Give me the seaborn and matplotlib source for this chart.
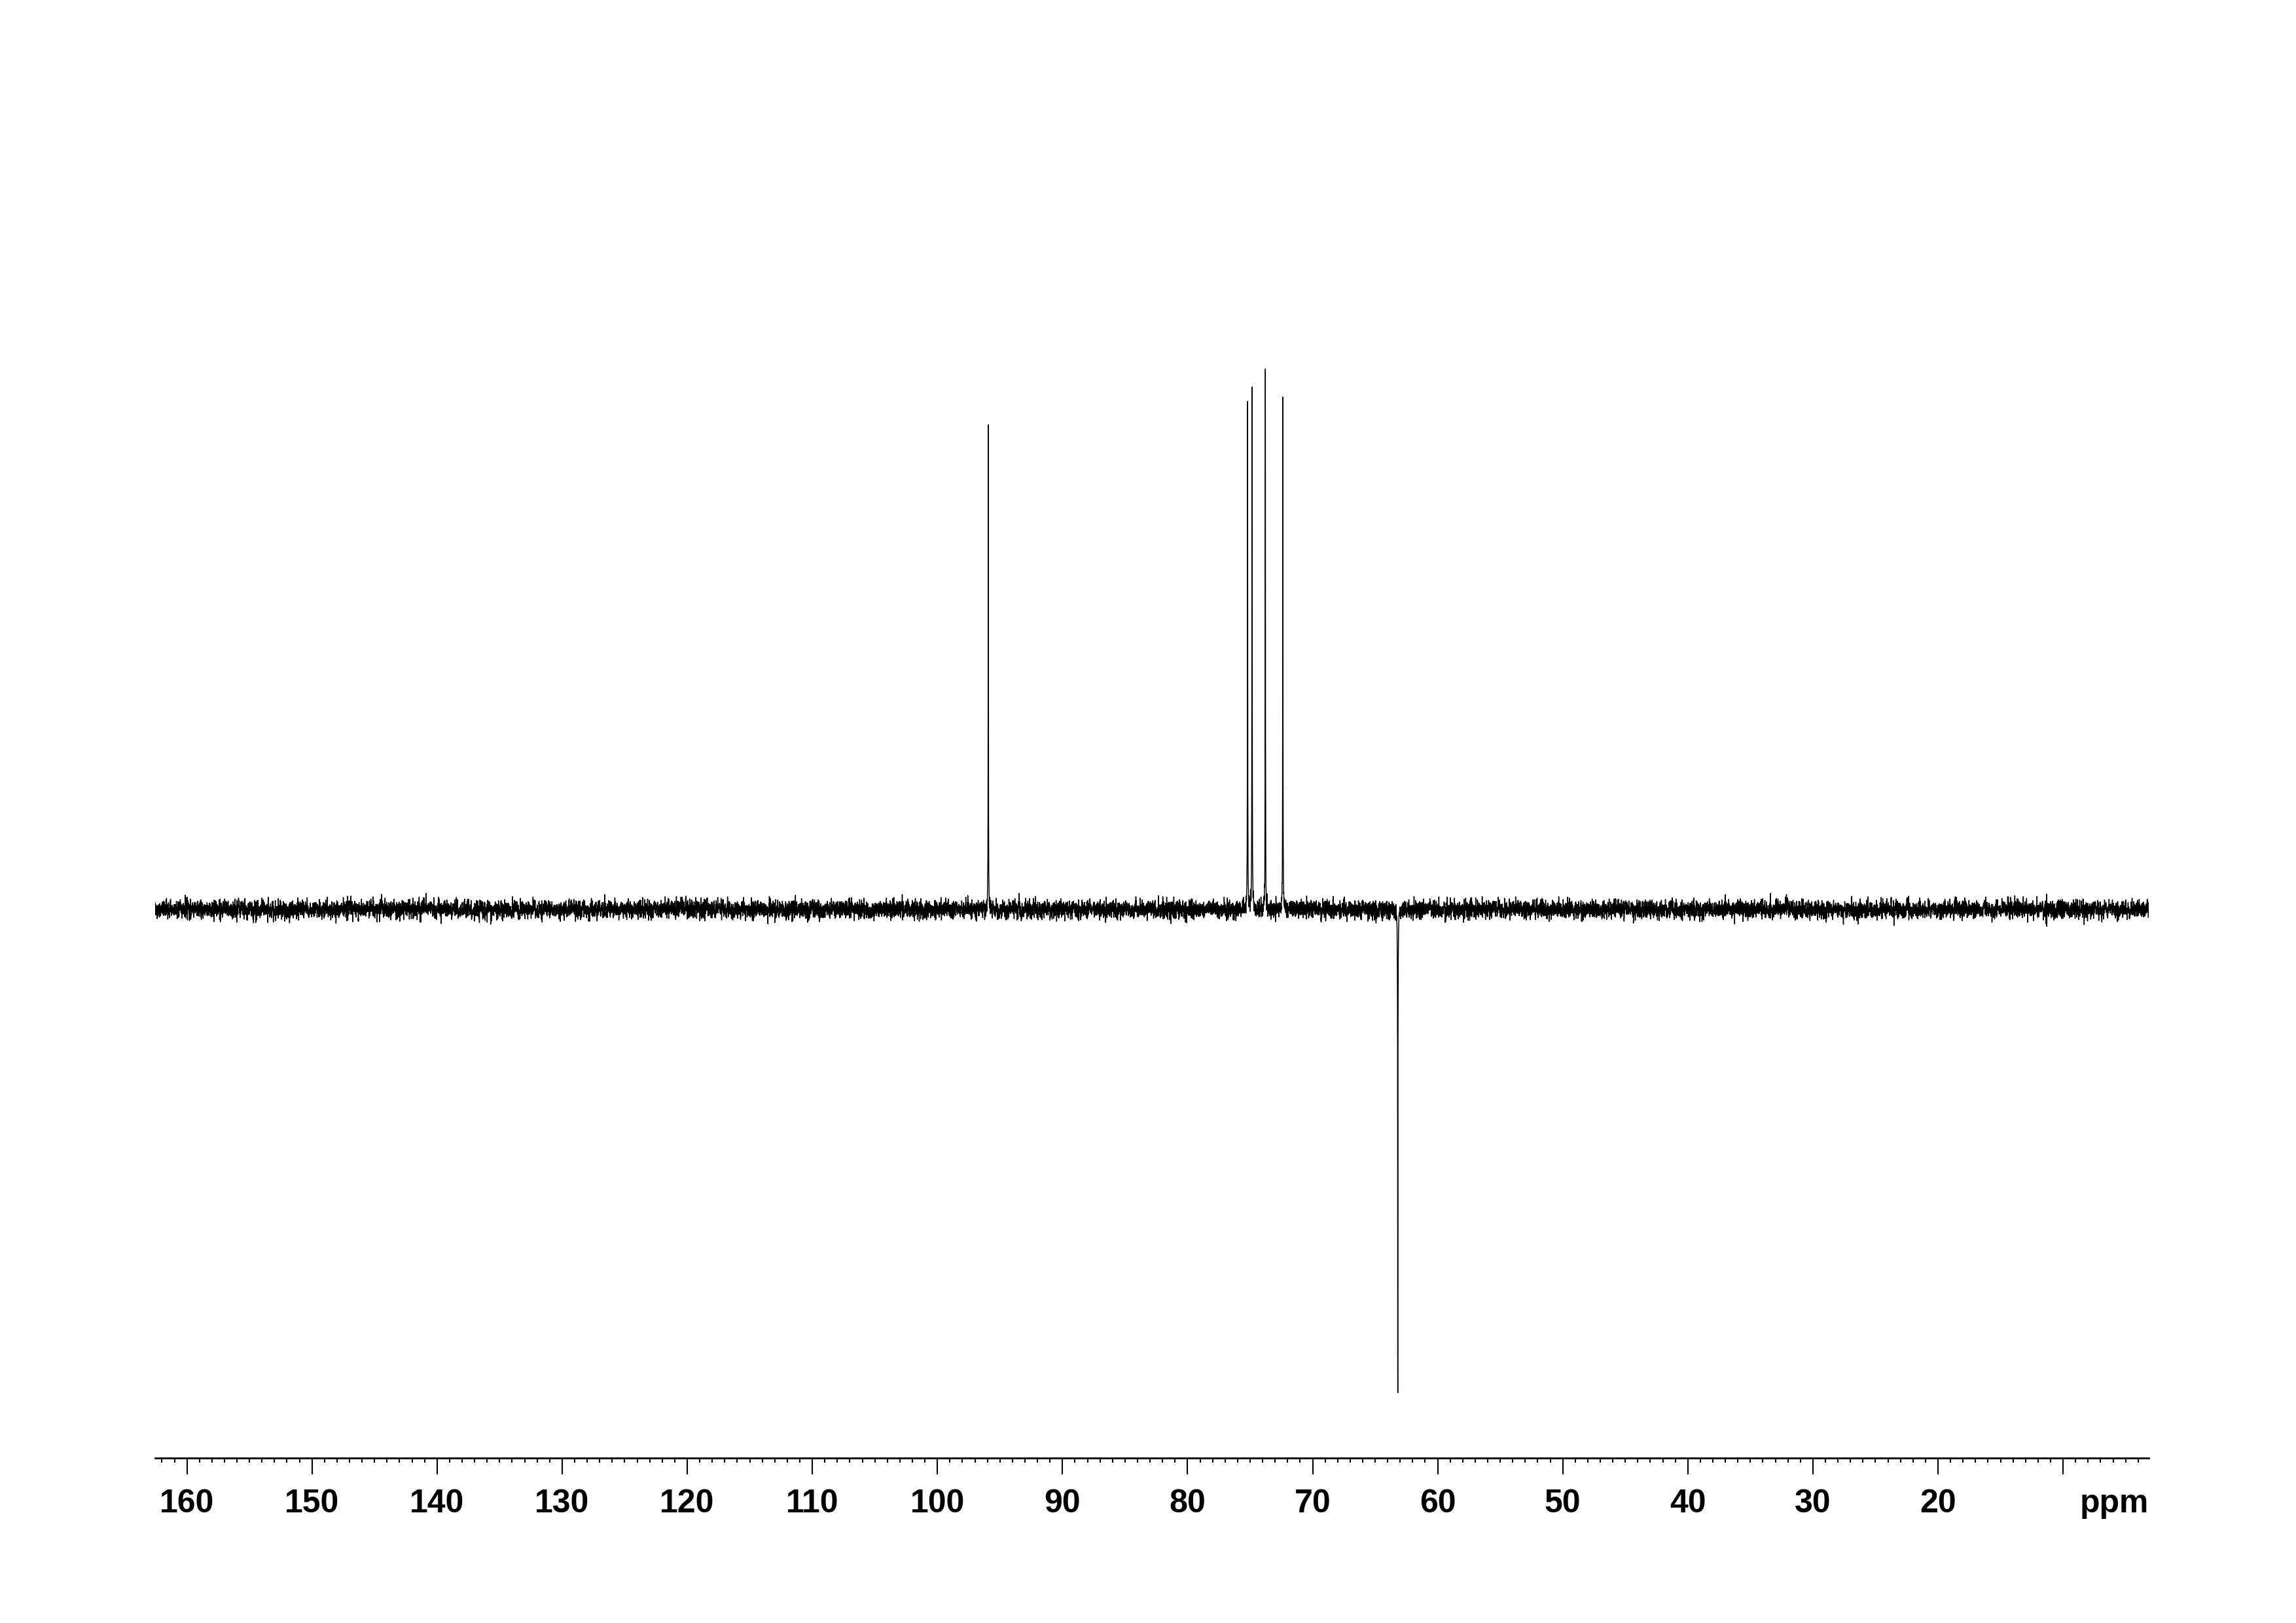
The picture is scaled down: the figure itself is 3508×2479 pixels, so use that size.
import numpy as np
import pandas as pd
import matplotlib
matplotlib.use("Agg")
import matplotlib.pyplot as plt
import seaborn as sns
from matplotlib.ticker import MultipleLocator, FixedLocator, FixedFormatter

# ---- data (DEPT-135 style 13C spectrum) ----
peak_ppm = [95.93, 75.20, 74.84, 73.78, 72.38, 63.19]
peak_height = [90.0, 95.7, 98.8, 100.0, 96.9, -90.4]   # relative intensity (max = 100)
peak_hwhm = [0.012, 0.012, 0.014, 0.012, 0.012, 0.012]  # ppm
noise_sd = 0.82                                        # baseline noise level (relative units)
ppm_left, ppm_right = 162.57, 3.15
major_ticks = [160, 150, 140, 130, 120, 110, 100, 90, 80, 70, 60, 50, 40, 30, 20, 10]
major_labels = ["160", "150", "140", "130", "120", "110", "100", "90", "80", "70",
                "60", "50", "40", "30", "20", ""]
axis_unit = "ppm"

# ---- build the spectrum trace ----
step = 0.008
ppm = np.arange(ppm_left, ppm_right, -step)
rng = np.random.default_rng(11)
white = rng.normal(size=ppm.size)
kernel = np.array([0.15, 0.7, 0.15])
noise = np.convolve(white, kernel, mode="same")
noise = noise / noise.std() * noise_sd
signal = np.zeros_like(ppm)
for c, h, w in zip(peak_ppm, peak_height, peak_hwhm):
    shape = 1.0 / (1.0 + ((ppm - c) / w) ** 2)
    signal += h * shape / shape.max()
df = pd.DataFrame({"ppm": ppm, "intensity": signal + noise})

# ---- figure ----
sns.set_theme(style="white")
plt.rcParams["font.family"] = ["Liberation Sans", "DejaVu Sans"]
W, H, DPI = 3508, 2479, 300
fig = plt.figure(figsize=(W / DPI, H / DPI), dpi=DPI)
ax_left = 236.5 / W
ax_right = 3283.0 / W
ax_bottom = (H - 2227.0) / H
ax = fig.add_axes([ax_left, ax_bottom, ax_right - ax_left, 1.0 - ax_bottom])

sns.lineplot(data=df, x="ppm", y="intensity", ax=ax, estimator=None, sort=False,
             color="black", linewidth=0.35, legend=False)

# y scale: baseline at 1389 px from top, 100 units = 814 px
px_per_unit = 8.14
base_above_axis = 2227.0 - 1389.0
ax.set_ylim(-base_above_axis / px_per_unit, (2227.0 - base_above_axis) / px_per_unit)
ax.set_xlim(ppm_left, ppm_right)

for s in ["top", "left", "right"]:
    ax.spines[s].set_visible(False)
ax.spines["bottom"].set_linewidth(0.65)
ax.spines["bottom"].set_color("black")

ax.xaxis.set_major_locator(FixedLocator(major_ticks))
ax.xaxis.set_major_formatter(FixedFormatter(major_labels))
ax.xaxis.set_minor_locator(MultipleLocator(1))
ax.tick_params(axis="x", which="major", direction="out", length=6.0, width=0.5,
               color="black", pad=5.4, labelsize=12, labelcolor="black", bottom=True)
ax.tick_params(axis="x", which="minor", direction="out", length=1.7, width=0.5,
               color="black", bottom=True)
for lab in ax.get_xticklabels():
    lab.set_fontweight("bold")
ax.set_yticks([])
ax.set_xlabel("")
ax.set_ylabel("")

ax.text(1.0, -0.0, axis_unit, transform=ax.transAxes, ha="right", va="top",
        fontsize=12, fontweight="bold", color="black")
# align ppm label top with tick labels
fig.canvas.draw()
tl = ax.get_xticklabels()[0]
bb = tl.get_window_extent()
ax.texts[-1].set_position((1.0, ax.transAxes.inverted().transform((0, bb.y1))[1]))

ax.set_facecolor("white")
fig.patch.set_facecolor("white")
fig.savefig("out.png", dpi=DPI, facecolor="white")
